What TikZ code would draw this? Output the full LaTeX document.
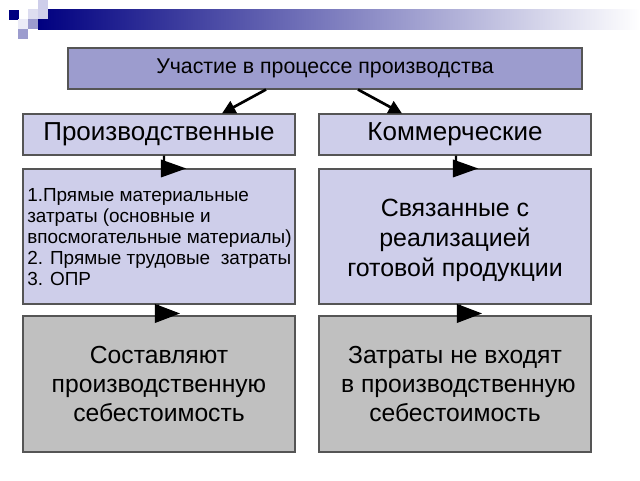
\documentclass[tikz,border=0pt]{standalone}
\usepackage{fontspec}
\setmainfont{Liberation Sans}
\usetikzlibrary{arrows.meta,calc}
\definecolor{navyband}{RGB}{0,0,128}
\definecolor{topfill}{RGB}{156,156,206}
\definecolor{boxfill}{RGB}{206,206,234}
\definecolor{grayfill}{RGB}{192,192,192}
\definecolor{boxline}{RGB}{85,85,85}
\tikzset{
  box/.style={draw=boxline, line width=0.8pt, minimum width=204pt, inner sep=0pt, align=center},
  topbox/.style={box, fill=topfill, minimum width=385.5pt, minimum height=30.75pt, font=\fontsize{16}{18}\selectfont},
  headbox/.style={box, fill=boxfill, minimum height=30.75pt, font=\fontsize{19.5}{22}\selectfont},
  listbox/.style={box, fill=boxfill, minimum height=101.25pt},
  sumbox/.style={box, fill=grayfill, minimum height=102pt, font=\fontsize{18.5}{21.75}\selectfont},
  link/.style={line width=2pt, -{Triangle[length=10pt,width=10pt]}},
  flag/.style={line width=1.6pt, fill=black}
}
\begin{document}
\begin{tikzpicture}[x=0.75pt,y=-0.75pt]
\useasboundingbox (0,0) rectangle (640,480);

\shade[left color=navyband, right color=white] (38,9) rectangle (640,29);
\fill[navyband] (9,10) rectangle (19,20);
\fill[boxfill] (38,0) rectangle (48,9);
\fill[boxfill!70!white] (28,9) rectangle (38,19);
\fill[topfill] (28,19) rectangle (38,29);
\fill[boxfill!40!white] (18,19) rectangle (28,29);
\fill[topfill] (18,29) rectangle (28,39);
\fill[boxfill] (38,9) rectangle (48,19);

\node[topbox] (top) at (325,68.5) {Участие в процессе производства};
\node[headbox] (prod) at (159,134.5) {Производственные};
\node[headbox] (comm) at (455,134.5) {Коммерческие};
\node[listbox] (direct) at (159,236.5) {};
\node[anchor=west, inner sep=0pt, align=left,
      font=\fontsize{14.2}{15.75}\selectfont] (directtext) at (27,237)
  {1.Прямые материальные\\
   затраты (основные и\\
   впосмогательные материалы)\\
   2. Прямые трудовые~ затраты\\
   3. ОПР};
\node[listbox] (sales) at (455,236.5) {};
\node[align=center, inner sep=0pt, font=\fontsize{18.7}{22.5}\selectfont]
  (salestext) at (455,240) {Связанные с\\реализацией\\готовой продукции};
\node[sumbox] (incost) at (159,384)
  {Составляют\\производственную\\себестоимость};
\node[sumbox] (outcost) at (455,384)
  {Затраты не входят\\~в производственную\\себестоимость};

\draw[link] ($(top.south)+(-59,0)$) -- ($(prod.north)+(63,0)$);
\draw[link] ($(top.south)+(33,0)$) -- ($(comm.north)+(-53,0)$);

\filldraw[flag] ($(prod.south)+(5,0)$) -- ($(direct.north)+(5,0)$)
  ++(-2,-7.5) -- ++(21,7.5) -- ++(-21,7.5) -- cycle;
\filldraw[flag] ($(comm.south)+(1,0)$) -- ($(sales.north)+(1,0)$)
  ++(-2,-7.5) -- ++(21,7.5) -- ++(-21,7.5) -- cycle;
\filldraw[flag] ($(direct.south)+(-1,0)$) -- ($(incost.north)+(-1,0)$)
  ++(-2,-10) -- ++(21,8) -- ++(-21,8) -- cycle;
\filldraw[flag] ($(sales.south)+(5,0)$) -- ($(outcost.north)+(5,0)$)
  ++(-2,-10) -- ++(21,8) -- ++(-21,8) -- cycle;
\end{tikzpicture}
\end{document}
